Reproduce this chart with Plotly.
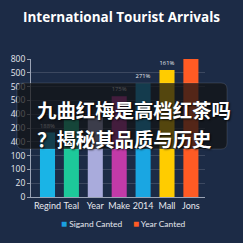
import plotly.graph_objects as go

categories = ["Regind", "Teal", "Year", "Make", "2014", "Mall", "Jons"]
values = [374, 450, 461, 584, 660, 736, 815]
bar_labels = ["188%", "", "", "175%", "271%", "161%", "273%"]
bar_colors = ["#1ab4e6", "#1dc99a", "#a9abdc", "#c23aa8", "#1aa6e2", "#ffcc00", "#ff5b24"]
tick_vals = [0, 80, 160, 240, 320, 400, 480, 560, 640, 720, 800]
tick_text = ["0", "20", "100", "100", "400", "200", "400", "500", "500", "500", "800"]
legend_names = ["Sigand Canted", "Year Canted"]
legend_colors = ["#1a9fe0", "#ff5b24"]
title_text = "International Tourist Arrivals"
overlay_lines = ["九曲红梅是高档红茶吗", "？揭秘其品质与历史"]

BG = "#1c2b46"
W, H = 243, 243
L, R, T, B = 31, 38, 59, 46
pw, ph = W - L - R, H - T - B

def px(x):
    return (x - L) / pw

def py(y):
    return (H - B - y) / ph

fig = go.Figure()
fig.add_trace(go.Bar(
    x=categories, y=values, marker=dict(color=bar_colors, line=dict(width=0)),
    text=bar_labels, textposition="outside", cliponaxis=False,
    textfont=dict(size=9.3, color="#e6e8ee", family="Open Sans"),
    width=0.63, showlegend=False, hoverinfo="skip",
))
for name, col in zip(legend_names, legend_colors):
    fig.add_trace(go.Scatter(
        x=[None], y=[None], mode="markers",
        name=f'<span style="color:{col};font-size:10px">\u2002■</span> {name}',
        marker=dict(symbol="square", size=7, color="rgba(0,0,0,0)"),
    ))
# spacer entry so the legend box is wide enough for the last label
fig.add_trace(go.Scatter(x=[None], y=[None], mode="markers", name=" ",
                         marker=dict(color="rgba(0,0,0,0)"), hoverinfo="skip"))

# overlay rounded box
x0, x1, y0, y1 = px(17), px(227), py(83), py(149)
rx, ry = 6 / pw, 6 / ph
path = (f"M {x0+rx},{y0} L {x1-rx},{y0} Q {x1},{y0} {x1},{y0-ry} "
        f"L {x1},{y1+ry} Q {x1},{y1} {x1-rx},{y1} L {x0+rx},{y1} "
        f"Q {x0},{y1} {x0},{y1+ry} L {x0},{y0-ry} Q {x0},{y0} {x0+rx},{y0} Z")
fig.add_shape(type="path", path=path, xref="paper", yref="paper",
              fillcolor="rgba(18,18,20,0.72)", line=dict(color="rgba(255,255,255,0.12)", width=1),
              layer="above")

for line, yc in zip(overlay_lines, [109, 138]):
    fig.add_annotation(
        text=line, xref="paper", yref="paper", x=px(35), y=py(yc),
        xanchor="left", yanchor="middle", showarrow=False,
        font=dict(size=19.4, color="white", family="Noto Sans CJK SC", weight="bold",
                  shadow="1px 1px 2px rgba(0,0,0,0.9)"),
    )

fig.update_layout(
    width=W, height=H, paper_bgcolor=BG, plot_bgcolor=BG,
    margin=dict(l=L, r=R, t=T, b=B, autoexpand=False),
    title=dict(text=title_text, x=0.5, xanchor="center", y=1 - 17 / H, yanchor="middle",
               yref="container",
               font=dict(size=13.5, color="white", family="Open Sans", weight="bold")),
    xaxis=dict(range=[-0.69, 6.59], showline=True, linecolor="#9aa3b5", linewidth=1,
               ticks="", tickangle=0,
               tickfont=dict(size=9, color="#e6e8ee", family="Lato"),
               showgrid=False, fixedrange=True),
    yaxis=dict(range=[0, 800], tickvals=tick_vals, ticktext=tick_text,
               showline=True, linecolor="#9aa3b5", linewidth=1,
               ticks="outside", ticklen=3, tickcolor="#9aa3b5",
               tickfont=dict(size=8.5, color="#e6e8ee", family="Open Sans"),
               gridcolor="rgba(255,255,255,0.14)", gridwidth=1, zeroline=False,
               fixedrange=True),
    legend=dict(orientation="h", xref="paper", x=px(232), xanchor="right",
                yref="paper", y=py(223.5), yanchor="middle",
                font=dict(size=8.4, color="#e6e8ee", family="Lato"),
                bgcolor="rgba(0,0,0,0)", itemwidth=30, tracegroupgap=0,
                entrywidth=27, entrywidthmode="pixels"),
    bargap=0.37,
)

fig.write_html("out.html", config={"displayModeBar": False})
